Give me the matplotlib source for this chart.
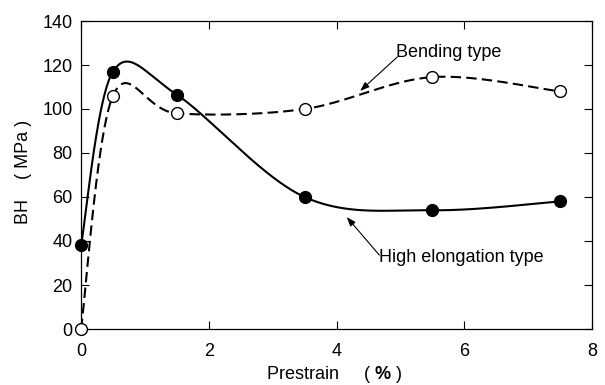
import matplotlib.pyplot as plt
import numpy as np

plt.rcParams['font.family'] = ['Liberation Sans', 'DejaVu Sans']
plt.rcParams['mathtext.fontset'] = 'custom'
plt.rcParams['mathtext.rm'] = 'Liberation Sans'
plt.rcParams['mathtext.bf'] = 'Liberation Sans:bold'

# Data
prestrain = [0, 0.5, 1.5, 3.5, 5.5, 7.5]
bh_high_elong = [38, 117, 106.5, 60, 54, 58]
bh_bending = [0, 106, 98, 100, 114.5, 108]


def smooth_line(x, y, n=60):
    # spreadsheet-style smoothed line: bezier segments, catmull-rom controls
    p = np.column_stack([x, y]).astype(float)
    ext = np.vstack([p[0], p, p[-1]])
    t = np.linspace(0, 1, n)[:, None]
    out = []
    for i in range(len(p) - 1):
        p0, p1 = ext[i + 1], ext[i + 2]
        c1 = p0 + (ext[i + 2] - ext[i]) / 6
        c2 = p1 - (ext[i + 3] - ext[i + 1]) / 6
        seg = ((1 - t) ** 3 * p0 + 3 * (1 - t) ** 2 * t * c1
               + 3 * (1 - t) * t ** 2 * c2 + t ** 3 * p1)
        out.append(seg)
    out = np.vstack(out)
    return out[:, 0], out[:, 1]


fig = plt.figure(figsize=(6.05, 3.85), dpi=100)
ax = fig.add_axes([81 / 605, 1 - 329 / 385, 511 / 605, 308 / 385])

xs, ys = smooth_line(prestrain, bh_high_elong)
ax.plot(xs, ys, color='black', lw=1.5, zorder=2)
xs, ys = smooth_line(prestrain, bh_bending)
ax.plot(xs, ys, color='black', lw=1.5, ls=(0, (5, 2.5)), zorder=2)

ax.plot(prestrain, bh_high_elong, 'o', color='black', ms=8.5, zorder=3,
        clip_on=False)
ax.plot(prestrain, bh_bending, 'o', mfc='white', mec='black', mew=1.0,
        ms=8.5, zorder=3, clip_on=False)

arrow = dict(arrowstyle='-|>,head_length=0.55,head_width=0.2', color='black',
             lw=0.8, mutation_scale=10, shrinkA=0, shrinkB=0)
ax.text(4.93, 125.9, 'Bending type', fontsize=13, va='center', ha='left')
ax.annotate('', xy=(4.37, 108.2), xytext=(4.95, 123.6), arrowprops=arrow)
ax.text(4.67, 32.3, 'High elongation type', fontsize=13, va='center',
        ha='left')
ax.annotate('', xy=(4.16, 50.9), xytext=(4.67, 33.6), arrowprops=arrow)

ax.set_xlim(0, 8)
ax.set_ylim(0, 140)
ax.set_xticks([0, 2, 4, 6, 8])
ax.set_yticks(range(0, 141, 20))
ax.tick_params(direction='in', length=6, width=0.8, labelsize=13,
               top=True, right=True)
ax.tick_params(axis='x', pad=10)
ax.tick_params(axis='y', pad=6)
for s in ax.spines.values():
    s.set_linewidth(0.9)

ax.set_xlabel(r'Prestrain     ( $\mathbf{\%}$ )', fontsize=13)
ax.set_ylabel('BH    ( MPa )', fontsize=13)
ax.xaxis.set_label_coords(0.495, -0.115)
ax.yaxis.set_label_coords(-0.096, 0.51)

plt.savefig('out.png', dpi=100)
